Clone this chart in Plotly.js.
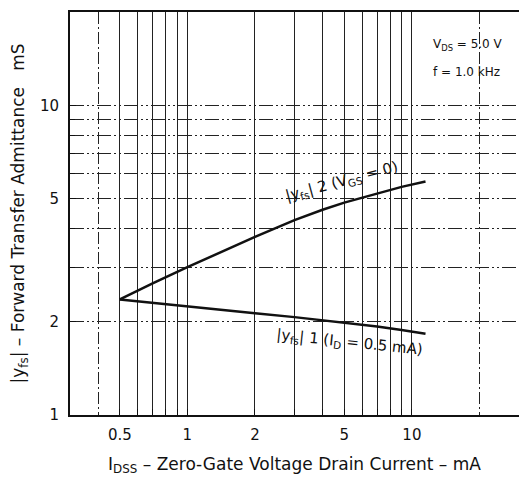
<!DOCTYPE html>
<html>
<head>
<meta charset="utf-8">
<script src="https://cdn.plot.ly/plotly-3.0.1.min.js"></script>
<style>html,body{margin:0;padding:0;background:#fff;}#chart{width:519px;height:478px;}</style>
</head>
<body>
<div id="chart"></div>
<script>
// Axis ticks and grid positions
const xTickVals = [0.5, 1, 2, 5, 10];
const xTickText = ['0.5', '1', '2', '5', '10'];
const xMinorGrid = [0.6, 0.7, 0.8, 0.9, 3, 4, 6, 7, 8, 9];
const xDashGrid = [0.4, 20];
const yTickVals = [1, 2, 5, 10];
const yTickText = ['1', '2', '5', '10'];
const yMinorGrid = [3, 4, 6, 7, 8, 9];

// |yfs|2 (VGS = 0)
const idss2 = [0.5, 0.7, 1, 1.5, 2, 3, 4, 5, 7, 9, 11.5];
const yfs2  = [2.36, 2.66, 3.0, 3.43, 3.76, 4.26, 4.60, 4.85, 5.2, 5.45, 5.67];
// |yfs|1 (ID = 0.5 mA)
const idss1 = [0.5, 0.7, 1, 2, 3, 5, 7, 9, 11.5];
const yfs1  = [2.36, 2.30, 2.24, 2.13, 2.07, 1.99, 1.93, 1.88, 1.83];

const xr = [Math.log10(0.3), Math.log10(30)];
const yr = [Math.log10(1), Math.log10(20)];
const ink = '#111';
const gridCol = '#222';
const hDash = '14px,3px,2px,3px,2px,3px';
const font = 'DejaVu Sans, Liberation Sans, sans-serif';

const traces = [
  {x: idss2, y: yfs2, type: 'scatter', mode: 'lines', line: {color: ink, width: 2.5}, showlegend: false, hoverinfo: 'skip'},
  {x: idss1, y: yfs1, type: 'scatter', mode: 'lines', xaxis: 'x2', line: {color: ink, width: 2.5}, showlegend: false, hoverinfo: 'skip'}
];

const layout = {
  width: 519, height: 478,
  margin: {l: 70, r: 0, t: 12, b: 63},
  paper_bgcolor: '#fff', plot_bgcolor: '#fff',
  font: {family: font, color: ink, size: 14},
  showlegend: false,
  xaxis: {
    type: 'log', range: xr, tickmode: 'array', tickvals: xTickVals, ticktext: xTickText,
    ticks: 'inside', ticklen: 6, tickcolor: ink, tickwidth: 1,
    ticklabelstandoff: 5,
    showgrid: true, gridcolor: gridCol, gridwidth: 1,
    minor: {tickvals: xMinorGrid, showgrid: true, gridcolor: gridCol, gridwidth: 1, ticks: 'inside', ticklen: 6, tickcolor: ink},
    showline: true, linecolor: ink, linewidth: 2, mirror: true, zeroline: false,
    tickfont: {size: 15},
    title: {text: 'I<sub>DSS</sub> – Zero-Gate Voltage Drain Current – mA', font: {size: 17}, standoff: 15}
  },
  xaxis2: {
    type: 'log', range: xr, overlaying: 'x', tickmode: 'array', tickvals: xDashGrid,
    showticklabels: false, ticks: '', showgrid: true, gridcolor: gridCol, gridwidth: 1, griddash: '12px,3px,2px,3px',
    showline: false, zeroline: false
  },
  yaxis: {
    type: 'log', range: yr, tickmode: 'array', tickvals: yTickVals, ticktext: yTickText,
    ticks: 'inside', ticklen: 6, tickcolor: ink, tickwidth: 1,
    ticklabelstandoff: 6,
    showgrid: true, gridcolor: gridCol, gridwidth: 1, griddash: hDash,
    minor: {tickvals: yMinorGrid, showgrid: true, gridcolor: gridCol, gridwidth: 1, griddash: hDash, ticks: 'inside', ticklen: 5, tickcolor: ink},
    showline: true, linecolor: ink, linewidth: 2, zeroline: false,
    tickfont: {size: 15},
    title: {text: '|y<sub>fs</sub>| – Forward Transfer Admittance&nbsp;&nbsp;&nbsp;mS', font: {size: 17}, standoff: 11}
  },
  shapes: [
    {type: 'rect', xref: 'x domain', yref: 'y domain', x0: 0.768, x1: 1, y0: 0.775, y1: 1,
     fillcolor: '#fff', line: {width: 0}, layer: 'below'}
  ],
  annotations: [
    {xref: 'x', yref: 'y', x: Math.log10(4.9), y: Math.log10(5.66), text: '|y<sub>fs</sub>| 2 (V<sub>GS</sub> = 0)',
     showarrow: false, textangle: -15, font: {size: 15, color: ink}},
    {xref: 'x', yref: 'y', x: Math.log10(5.25), y: Math.log10(1.72), text: '|y<sub>fs</sub>| 1 (I<sub>D</sub> = 0.5 mA)',
     showarrow: false, textangle: 6, font: {size: 15, color: ink}},
    {xref: 'paper', yref: 'paper', x: 0.803, y: 0.918, xanchor: 'left', yanchor: 'middle', align: 'left',
     text: 'V<sub>DS</sub> = 5.0 V', showarrow: false, font: {size: 12, color: ink}},
    {xref: 'paper', yref: 'paper', x: 0.803, y: 0.852, xanchor: 'left', yanchor: 'middle', align: 'left',
     text: 'f = 1.0 kHz', showarrow: false, font: {size: 12, color: ink}}
  ]
};

Plotly.newPlot('chart', traces, layout, {staticPlot: true, displayModeBar: false});
</script>
</body>
</html>
